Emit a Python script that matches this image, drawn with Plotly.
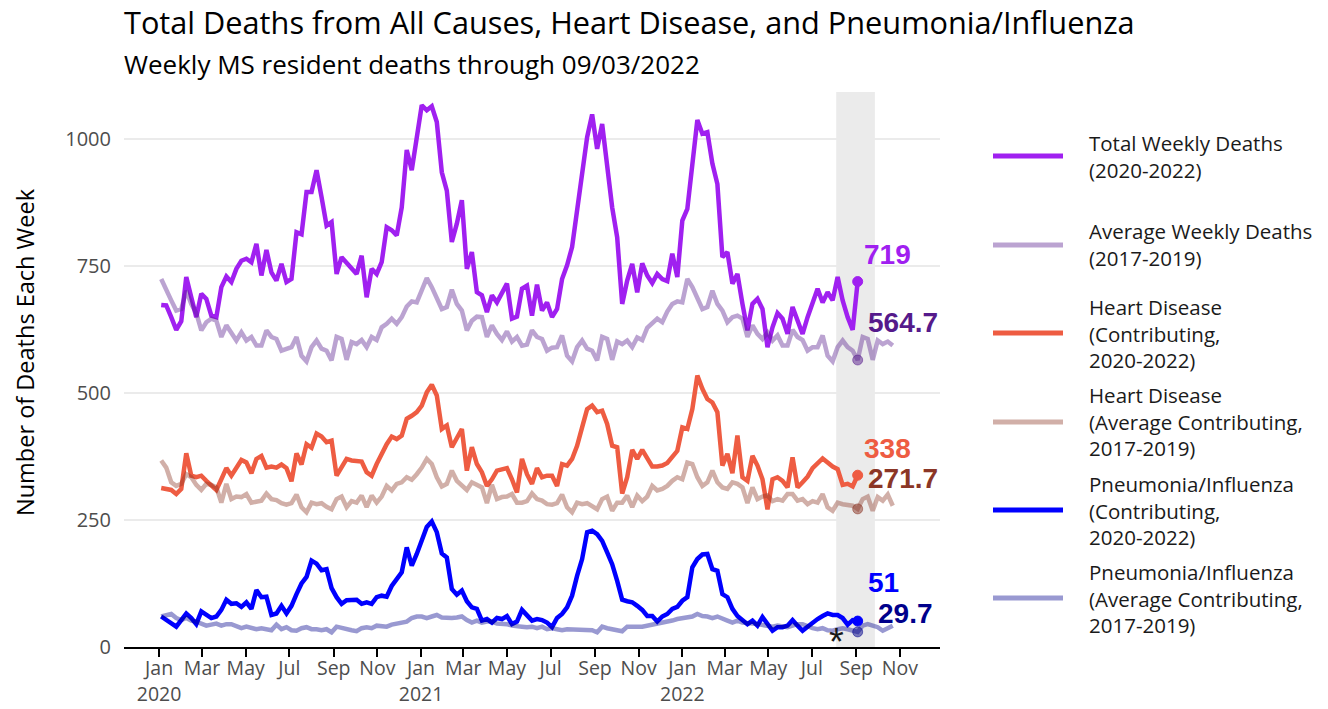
import plotly.graph_objects as go
import pandas as pd

# ---------------- data ----------------
week_start = "2020-01-04"   # first weekly point (week ending)

total_weekly_2020_2022 = [
    673, 672, 649, 624, 641, 728, 688, 649, 695, 685, 652, 649, 708, 729, 718, 744, 760, 764, 757, 793,
    731, 781, 737, 721, 754, 718, 724, 816, 812, 895, 895, 938, 885, 829, 836, 734, 767, 757, 744, 734,
    770, 688, 744, 734, 757, 826, 820, 810, 865, 978, 938, 1003, 1066, 1056, 1064, 1033, 934, 898, 797, 833,
    879, 744, 777, 698, 692, 659, 692, 678, 695, 715, 646, 650, 705, 711, 652, 713, 662, 678, 649, 665,
    724, 751, 787, 859, 938, 1003, 1048, 980, 1029, 938, 865, 806, 675, 721, 754, 698, 755, 731, 716, 734,
    724, 720, 774, 728, 839, 862, 944, 1037, 1010, 1013, 951, 911, 767, 777, 715, 734, 675, 623, 675, 685,
    665, 590, 629, 657, 646, 616, 669, 642, 616, 649, 678, 705, 678, 698, 682, 728, 682, 649, 624, 719,
]

avg_weekly_2017_2019 = [
    724, 705, 682, 662, 665, 701, 675, 657, 623, 639, 646, 642, 610, 633, 619, 603, 619, 603, 610, 593,
    593, 623, 610, 606, 583, 587, 590, 610, 573, 562, 590, 603, 587, 583, 564, 610, 606, 565, 600, 596,
    604, 590, 610, 604, 629, 636, 646, 636, 649, 670, 680, 678, 705, 726, 708, 685, 665, 669, 703, 675,
    662, 623, 642, 650, 649, 610, 633, 616, 604, 621, 601, 610, 593, 595, 623, 610, 606, 583, 589, 590,
    613, 573, 562, 590, 603, 587, 583, 564, 610, 606, 565, 601, 596, 603, 590, 609, 604, 628, 636, 646,
    639, 660, 675, 680, 678, 724, 708, 685, 665, 669, 701, 675, 662, 639, 649, 652, 646, 610, 633, 616,
    606, 619, 603, 613, 593, 593, 624, 610, 604, 583, 590, 590, 613, 573, 562, 590, 603, 590, 583, 564.7,
    610, 606, 565, 603, 596, 601, 593,
]

heart_2020_2022 = [
    313, 311, 309, 301, 311, 381, 337, 334, 337, 327, 319, 309, 330, 352, 337, 353, 368, 363, 342, 370,
    376, 353, 355, 353, 359, 352, 326, 381, 359, 399, 392, 420, 414, 403, 406, 337, 353, 370, 367, 367,
    365, 344, 337, 360, 380, 399, 414, 409, 416, 449, 455, 462, 475, 501, 516, 495, 429, 436, 393, 413,
    429, 347, 393, 360, 344, 317, 330, 347, 350, 352, 330, 304, 370, 340, 321, 352, 334, 337, 337, 317,
    360, 357, 370, 396, 432, 468, 475, 462, 465, 439, 396, 393, 302, 334, 388, 370, 388, 370, 355, 355,
    357, 362, 373, 386, 432, 429, 468, 534, 508, 488, 481, 462, 357, 380, 342, 416, 334, 327, 376, 357,
    330, 271, 330, 334, 327, 314, 373, 314, 324, 335, 352, 363, 371, 363, 355, 350, 319, 321, 316, 338,
]

heart_avg_2017_2019 = [
    367, 353, 324, 317, 321, 340, 334, 319, 309, 321, 319, 314, 284, 321, 291, 296, 295, 301, 284, 287,
    288, 302, 291, 289, 283, 280, 283, 300, 275, 265, 284, 281, 283, 276, 271, 291, 296, 275, 287, 284,
    298, 275, 298, 284, 296, 317, 308, 321, 324, 334, 329, 340, 353, 370, 360, 334, 316, 321, 347, 327,
    319, 309, 324, 319, 314, 283, 319, 291, 295, 296, 301, 284, 284, 287, 302, 291, 288, 281, 280, 283,
    300, 275, 265, 284, 281, 283, 276, 271, 291, 296, 268, 284, 284, 298, 275, 298, 287, 296, 317, 308,
    311, 317, 327, 334, 330, 363, 360, 334, 317, 324, 347, 324, 314, 311, 324, 321, 314, 283, 314, 291,
    296, 298, 287, 291, 288, 301, 301, 288, 291, 281, 287, 284, 301, 275, 268, 284, 281, 280, 278, 271.7,
    291, 296, 268, 295, 288, 300, 278,
]

pneu_flu_2020_2022 = [
    60, 53, 46, 40, 53, 66, 57, 45, 70, 63, 57, 60, 73, 93, 85, 86, 79, 88, 75, 112,
    98, 99, 63, 66, 81, 66, 81, 104, 125, 138, 170, 164, 151, 153, 116, 98, 85, 92, 93, 93,
    85, 88, 85, 98, 101, 99, 120, 132, 147, 196, 160, 183, 209, 236, 247, 226, 184, 176, 114, 103,
    111, 90, 78, 75, 52, 55, 48, 57, 55, 61, 45, 50, 73, 61, 52, 55, 53, 48, 39, 57,
    65, 78, 101, 140, 173, 226, 229, 222, 209, 186, 163, 130, 93, 90, 88, 81, 73, 61, 61, 50,
    60, 65, 75, 79, 91, 98, 157, 173, 182, 183, 153, 150, 104, 98, 75, 61, 52, 45, 52, 42,
    59, 44, 32, 39, 39, 42, 53, 42, 32, 40, 48, 55, 61, 66, 63, 63, 57, 44, 53, 51,
]

pneu_flu_avg_2017_2019 = [
    60, 63, 65, 57, 53, 57, 52, 50, 46, 42, 44, 46, 42, 45, 45, 40, 37, 40, 37, 35,
    37, 35, 33, 44, 35, 39, 33, 32, 37, 39, 35, 35, 33, 35, 29, 40, 37, 35, 33, 31,
    37, 39, 37, 42, 42, 40, 44, 46, 46, 50, 57, 60, 60, 57, 60, 63, 58, 57, 57, 58,
    60, 53, 48, 52, 48, 50, 50, 46, 46, 45, 42, 40, 40, 39, 40, 37, 40, 35, 37, 35,
    33, 35, 35, 33, 33, 35, 33, 29, 40, 37, 35, 35, 31, 40, 39, 40, 40, 42, 44, 44,
    46, 50, 52, 55, 57, 60, 60, 65, 61, 60, 57, 60, 57, 52, 48, 52, 48, 46, 46, 45,
    44, 42, 40, 42, 40, 39, 42, 45, 45, 40, 37, 35, 37, 33, 32, 35, 37, 35, 33, 29.7,
    42, 45, 42, 39, 32, 37, 42,
]

legend_labels = [
    "Total Weekly Deaths<br>(2020-2022)",
    "Average Weekly Deaths<br>(2017-2019)",
    "Heart Disease<br>(Contributing,<br>2020-2022)",
    "Heart Disease<br>(Average Contributing,<br>2017-2019)",
    "Pneumonia/Influenza<br>(Contributing,<br>2020-2022)",
    "Pneumonia/Influenza<br>(Average Contributing,<br>2017-2019)",
]

y_tick_values = [0, 250, 500, 750, 1000]
x_tick_dates = ["2020-01-01", "2020-03-01", "2020-05-01", "2020-07-01", "2020-09-01", "2020-11-01",
                "2021-01-01", "2021-03-01", "2021-05-01", "2021-07-01", "2021-09-01", "2021-11-01",
                "2022-01-01", "2022-03-01", "2022-05-01", "2022-07-01", "2022-09-01", "2022-11-01"]
x_tick_text = ["Jan<br>2020", "Mar", "May", "Jul", "Sep", "Nov",
               "Jan<br>2021", "Mar", "May", "Jul", "Sep", "Nov",
               "Jan<br>2022", "Mar", "May", "Jul", "Sep", "Nov"]

highlight_window = ("2022-08-04", "2022-09-27")
asterisk_date = "2022-08-04"

# ---------------- styling ----------------
C_TOTAL = "#A020F0"
C_TOTAL_AVG = "rgba(85,26,139,0.4)"
C_TOTAL_LBL_AVG = "#551A8B"
C_HEART = "#EE5C42"
C_HEART_AVG = "rgba(139,54,38,0.4)"
C_HEART_LBL_AVG = "#8B3626"
C_PNEU = "#0000FF"
C_PNEU_AVG = "rgba(0,0,139,0.4)"
C_PNEU_LBL_AVG = "#00008B"

TEXT_FONT = "Open Sans, Noto Sans, sans-serif"
NUM_FONT = "Liberation Sans, Arial, sans-serif"

# body margin is removed in the page, so the figure sits at (0, 0)
W, H = 1328, 709
# plot area in screen pixels
L, R, T, B = 124, 940, 92, 647


def px_x(px):
    return (px - L) / (R - L)


def px_y(py):
    return (B - py) / (B - T)


dates_actual = pd.date_range(week_start, periods=len(total_weekly_2020_2022), freq="7D")
dates_avg = pd.date_range(week_start, periods=len(avg_weekly_2017_2019), freq="7D")
last = len(total_weekly_2020_2022) - 1

fig = go.Figure()

series = [
    (dates_actual, total_weekly_2020_2022, C_TOTAL),
    (dates_actual, heart_2020_2022, C_HEART),
    (dates_actual, pneu_flu_2020_2022, C_PNEU),
    (dates_avg, avg_weekly_2017_2019, C_TOTAL_AVG),
    (dates_avg, heart_avg_2017_2019, C_HEART_AVG),
    (dates_avg, pneu_flu_avg_2017_2019, C_PNEU_AVG),
]
for xs, ys, col in series:
    fig.add_trace(go.Scatter(x=xs, y=ys, mode="lines", showlegend=False, hoverinfo="skip",
                             line=dict(color=col, width=4.5)))

# end point markers
end_points = [
    (total_weekly_2020_2022, C_TOTAL, C_TOTAL),
    (heart_2020_2022, C_HEART, C_HEART),
    (pneu_flu_2020_2022, C_PNEU, C_PNEU),
    (avg_weekly_2017_2019, "rgba(85,26,139,0.5)", "rgba(85,26,139,0.5)"),
    (heart_avg_2017_2019, "rgba(139,54,38,0.5)", "rgba(139,54,38,0.5)"),
    (pneu_flu_avg_2017_2019, "rgba(0,0,139,0.5)", "rgba(0,0,139,0.5)"),
]
for ys, col, lcol in end_points:
    fig.add_trace(go.Scatter(x=[dates_actual[last]], y=[ys[last]], mode="markers", showlegend=False,
                             hoverinfo="skip",
                             marker=dict(size=10, color=col, line=dict(color=lcol, width=1))))


def fmt(v):
    return f"{v:g}"


end_labels = [
    (total_weekly_2020_2022, C_TOTAL, "center", 30, 27),
    (avg_weekly_2017_2019, C_TOTAL_LBL_AVG, "left", 8, 38),
    (heart_2020_2022, C_HEART, "center", 30, 27),
    (heart_avg_2017_2019, C_HEART_LBL_AVG, "left", 8, 30),
    (pneu_flu_2020_2022, C_PNEU, "center", 26, 39),
    (pneu_flu_avg_2017_2019, C_PNEU_LBL_AVG, "left", 18, 18),
]
for ys, col, anchor, xs_, ys_ in end_labels:
    fig.add_annotation(x=dates_actual[last], y=ys[last], text=f"<b>{fmt(ys[last])}</b>", showarrow=False,
                       xanchor=anchor, yanchor="middle", xshift=xs_, yshift=ys_,
                       font=dict(family=NUM_FONT, size=28, color=col))

# highlighted window
fig.add_shape(type="rect", xref="x", yref="paper", x0=highlight_window[0], x1=highlight_window[1],
              y0=0, y1=1, fillcolor="#EBEBEB", line=dict(width=0), layer="below")

fig.add_annotation(x=asterisk_date, y=10, text="*", showarrow=False, xanchor="center", yanchor="middle",
                   font=dict(family=NUM_FONT, size=38, color="#1A1A1A"))

# titles
fig.add_annotation(xref="paper", yref="paper", x=px_x(122), y=px_y(22), xanchor="left", yanchor="middle",
                   text="Total Deaths from All Causes, Heart Disease, and Pneumonia/Influenza",
                   showarrow=False, font=dict(family=TEXT_FONT, size=30.7, color="#000000"))
fig.add_annotation(xref="paper", yref="paper", x=px_x(122), y=px_y(64), xanchor="left", yanchor="middle",
                   text="Weekly MS resident deaths through 09/03/2022",
                   showarrow=False, font=dict(family=TEXT_FONT, size=26, color="#000000"))
fig.add_annotation(xref="paper", yref="paper", x=px_x(25), y=px_y(352), xanchor="center", yanchor="middle",
                   text="Number of Deaths Each Week", textangle=-90,
                   showarrow=False, font=dict(family=TEXT_FONT, size=23.5, color="#000000"))

# manual legend
legend_colors = [C_TOTAL, "#BBA3D1", C_HEART, "#D1AFA8", C_PNEU, "#9999D1"]
legend_y = [156, 245, 333, 422, 510, 598]
for lab, col, ly in zip(legend_labels, legend_colors, legend_y):
    fig.add_shape(type="line", xref="paper", yref="paper", x0=px_x(993), x1=px_x(1063),
                  y0=px_y(ly), y1=px_y(ly), line=dict(color=col, width=5))
    fig.add_annotation(xref="paper", yref="paper", x=px_x(1087), y=px_y(ly), xanchor="left",
                       yanchor="middle", align="left", text=lab, showarrow=False,
                       font=dict(family=TEXT_FONT, size=20.5, color="#1A1A1A"))

fig.update_layout(
    width=W, height=H,
    margin=dict(l=L, r=W - R, t=T, b=H - B, pad=0, autoexpand=False),
    plot_bgcolor="white", paper_bgcolor="white",
    showlegend=False,
    xaxis=dict(type="date", range=["2019-11-13", "2022-12-27"], tickvals=x_tick_dates, ticktext=x_tick_text,
               ticks="outside", ticklen=8, tickwidth=2, tickcolor="black", automargin=False, tickangle=0,
               ticklabelstandoff=-5,
               showline=True, linecolor="black", linewidth=2, showgrid=False, zeroline=False,
               tickfont=dict(family=TEXT_FONT, size=19.5, color="#4D4D4D")),
    yaxis=dict(range=[0, 1092], tickvals=y_tick_values, showgrid=True, gridcolor="#EBEBEB", gridwidth=1.5,
               zeroline=False, showline=False, ticks="", ticklabelstandoff=12, automargin=False,
               tickfont=dict(family=TEXT_FONT, size=20, color="#4D4D4D")),
)

fig.write_html("out.html", config={"displayModeBar": False},
               post_script="document.body.style.margin='0';document.body.style.overflow='hidden';")
